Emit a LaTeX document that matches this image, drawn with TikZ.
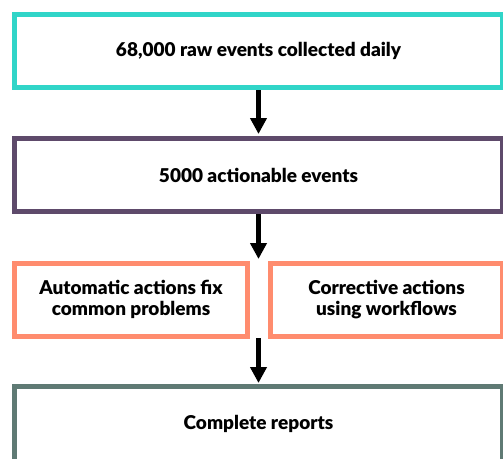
\documentclass[tikz,border=0pt]{standalone}
\usepackage{fontspec}
\setmainfont{Lato}[BoldFont={Lato Black}]
\usetikzlibrary{arrows.meta}
\definecolor{cteal}{HTML}{30D5C8}
\definecolor{cpurple}{HTML}{5E4A6B}
\definecolor{csalmon}{HTML}{FF8C6E}
\definecolor{cslate}{HTML}{5F7A74}
\tikzset{
  box/.style={draw, line width=5pt, fill=white, minimum height=73pt, inner sep=0pt,
    align=center, font=\fontsize{19}{21}\selectfont\bfseries},
  flow/.style={line width=5.5pt, -{Triangle[width=16pt,length=16pt]}}
}
\begin{document}
\begin{tikzpicture}[x=1pt,y=-1pt]
\useasboundingbox (0,0) rectangle (503,458);
\node[box, draw=cteal, minimum width=488pt] (b1) at (258.5,51) {68,000 raw events collected daily};
\node[box, draw=cpurple, minimum width=488pt] (b2) at (258.5,175) {5000 actionable events};
\node[box, draw=csalmon, minimum width=233pt] (b3a) at (131,299.5) {Automatic actions fix\\common problems};
\node[box, draw=csalmon, minimum width=232pt] (b3b) at (386.5,299.5) {Corrective actions\\using workflows};
\node[box, draw=cslate, minimum width=488pt, minimum height=75pt] (b4) at (258.5,424) {Complete reports};
\coordinate (m) at (258.5,338);
\draw[flow] (b1.south) -- ([yshift=2pt]b2.north);
\draw[flow] (b2.south) -- (258.5,259);
\draw[flow] (m) -- ([yshift=1pt]b4.north);
\end{tikzpicture}
\end{document}
